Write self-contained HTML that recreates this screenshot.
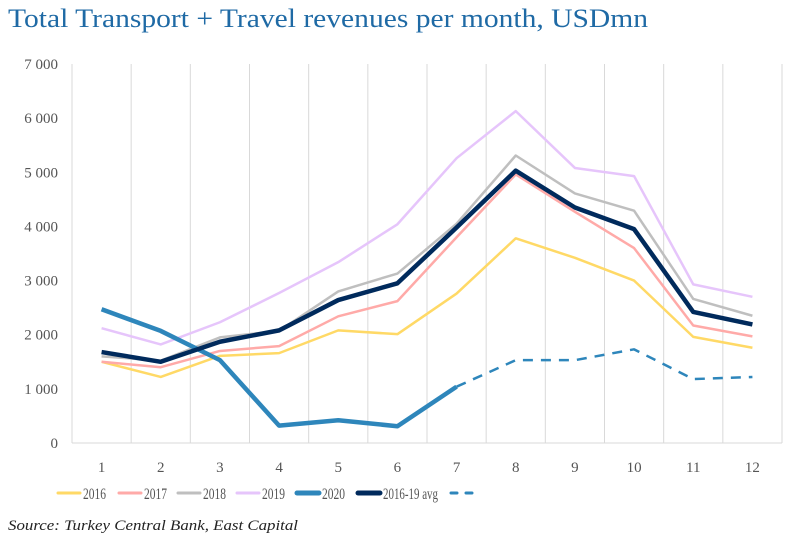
<!DOCTYPE html>
<html><head><meta charset="utf-8"><style>
body{margin:0;background:#fff;width:793px;height:538px;overflow:hidden;font-family:"Liberation Serif",serif}
</style></head><body>
<svg id="c" width="793" height="538" xmlns="http://www.w3.org/2000/svg">
<text x="8" y="27" font-size="26" fill="#1f6aa5" textLength="640" lengthAdjust="spacingAndGlyphs">Total Transport + Travel revenues per month, USDmn</text>
<text x="8" y="530" font-size="15" font-style="italic" fill="#222" textLength="290" lengthAdjust="spacingAndGlyphs">Source: Turkey Central Bank, East Capital</text>
<g id="grid"></g><g id="series"></g><g id="legend"></g>
</svg>
<script>
const months=["1","2","3","4","5","6","7","8","9","10","11","12"];
const yTicks=[0,1000,2000,3000,4000,5000,6000,7000];
const yTickLabels=["0","1 000","2 000","3 000","4 000","5 000","6 000","7 000"];
const s2016=[1500,1220,1610,1660,2080,2010,2760,3780,3420,3000,1960,1760];
const s2017=[1500,1400,1700,1790,2340,2620,3800,4960,4270,3600,2170,1970];
const s2018=[1600,1520,1950,2070,2800,3130,4050,5310,4610,4290,2660,2350];
const s2019=[2120,1820,2230,2770,3340,4040,5260,6130,5080,4930,2930,2700];
const s2020=[2470,2070,1530,320,420,310,1040,null,null,null,null,null];
const s2020f=[null,null,null,null,null,null,1040,1530,1530,1730,1180,1220];
const sAvg=[1680,1500,1870,2080,2640,2950,3980,5030,4350,3950,2420,2190];
const legendLabels=["2016","2017","2018","2019","2020","2016-19 avg",""];
const NS="http://www.w3.org/2000/svg";
const L=72,R=782,T=64,B=443,yMax=7000;
const bw=(R-L)/months.length;
const x=i=>L+bw*(i+0.5);
const y=v=>B-(v/yMax)*(B-T);
function mk(t,a,p){const e=document.createElementNS(NS,t);for(const k in a)e.setAttribute(k,a[k]);p.appendChild(e);return e;}
const g=document.getElementById('grid');
for(let i=0;i<=months.length;i++){
 const ln=mk('line',{x1:L+bw*i,x2:L+bw*i,y1:T,y2:B,stroke:'#d9d9d9','stroke-width':1},g);
 
 
}
const ax=mk('line',{x1:L,x2:R,y1:B,y2:B,stroke:'#d9d9d9','stroke-width':1},g);


yTicks.forEach((v,i)=>{
 const t=mk('text',{x:58,y:y(v)+5,'text-anchor':'end','font-size':15,fill:'#555'},g);
 t.textContent=yTickLabels[i];
 
 
});
months.forEach((m,i)=>{
 const t=mk('text',{x:x(i),y:472,'text-anchor':'middle','font-size':15,fill:'#555'},g);
 t.textContent=m;
 
 
});
const sg=document.getElementById('series');
function line(data,color,w,name,dash){
 let d='';let pen=false;
 data.forEach((v,i)=>{if(v==null){pen=false;return;}d+=(pen?'L':'M')+x(i)+','+y(v);pen=true;});
 const a={d:d,fill:'none',stroke:color,'stroke-width':w,'stroke-linejoin':'round'};
 if(dash)a['stroke-dasharray']=dash;
 const p=mk('path',a,sg);
 
 
}
line(s2016,'#ffd966',2.5,'line-2016');
line(s2017,'#ffaaa8',2.5,'line-2017');
line(s2018,'#bfbfbf',2.5,'line-2018');
line(s2019,'#e6c5fb',2.5,'line-2019');
line(s2020,'#2e86bb',4.5,'line-2020');
line(s2020f,'#2e86bb',2.5,'line-2020-forecast','10,8');
line(sAvg,'#002a5c',4.5,'line-2016-19-avg');
const lg=document.getElementById('legend');
const items=[[58,'#ffd966',3,'legend-2016',23],[119,'#ffaaa8',3,'legend-2017',23],[178,'#bfbfbf',3,'legend-2018',23],[237,'#e6c5fb',3,'legend-2019',23],[297,'#2e86bb',5,'legend-2020',23],[358,'#002a5c',5,'legend-2016-19-avg',55],[451,'#2e86bb',3,'legend-forecast',0]];
items.forEach((it,i)=>{
 const a={x1:it[0],x2:it[0]+22,y1:493,y2:493,stroke:it[1],'stroke-width':it[2],'stroke-linecap':'round'};
 if(i==6)a['stroke-dasharray']='6,9';
 const ln=mk('line',a,lg);
 
 
 if(legendLabels[i]){
  const t=mk('text',{x:it[0]+25,y:499,'font-size':16,fill:'#555',textLength:it[4],lengthAdjust:'spacingAndGlyphs'},lg);
  t.textContent=legendLabels[i];
  
  
 }
});
</script>
</body></html>
